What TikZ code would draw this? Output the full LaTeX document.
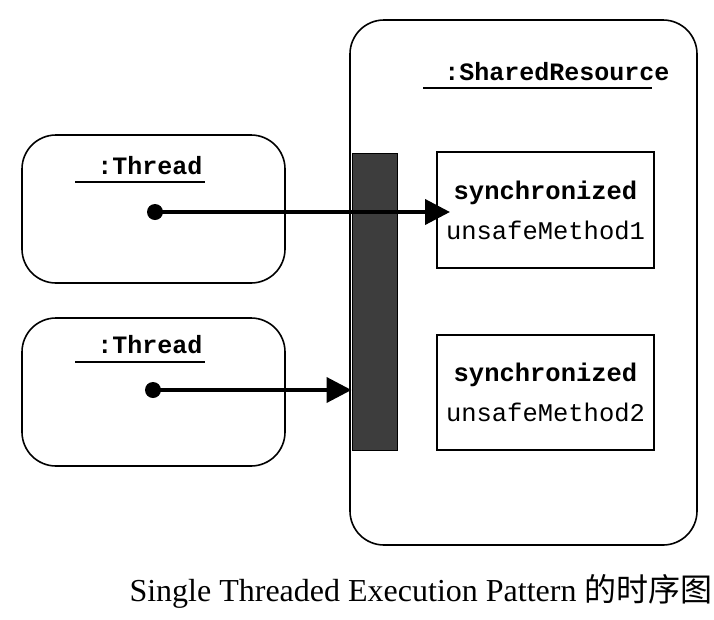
\documentclass[tikz,border=0pt]{standalone}
\usepackage{fontspec}
\setmainfont{Liberation Serif}
\setmonofont{Liberation Mono}
\newfontfamily\cjk{Noto Sans CJK SC}
\usetikzlibrary{arrows.meta}
\begin{document}
\begin{tikzpicture}[x=1pt,y=-1pt,
  objbox/.style={draw=black, line width=1.6pt, rounded corners=34pt, inner sep=0pt},
  methodbox/.style={draw=black, line width=1.4pt, inner sep=0pt, minimum width=217pt, align=center,
     font=\fontsize{25.5}{40}\selectfont\ttfamily},
  lockbar/.style={draw=black, line width=1pt, fill=black!76, inner sep=0pt, minimum width=45pt, minimum height=297pt},
  objtitle/.style={font=\fontsize{25}{28}\selectfont\ttfamily\bfseries, inner sep=0pt, anchor=base},
  uline/.style={line width=1.2pt},
  calldot/.style={circle, fill=black, inner sep=0pt, minimum size=16pt},
  callarrow/.style={line width=4pt, -{Triangle[length=25pt,width=25pt]}}
]
\useasboundingbox (0,0) rectangle (714,619);
% shared resource object
\node[objbox, minimum width=347pt, minimum height=525pt] (shared) at (523.5,282.5) {};
\node[objtitle] (stitle) at (557,80) {:SharedResource};
\draw[uline] (423,88) coordinate (su1) -- (652,88) coordinate (su2);
% method boxes
\node[methodbox, minimum height=116pt] (m1) at (545.5,210) {\textbf{synchronized}\\unsafeMethod1};
\node[methodbox, minimum height=115pt] (m2) at (545.5,392.5) {\textbf{synchronized}\\unsafeMethod2};
% threads
\node[objbox, minimum width=263pt, minimum height=148pt] (t1) at (153.5,209) {};
\node[objbox, minimum width=263pt, minimum height=148pt] (t2) at (153.5,392) {};
\node[objtitle] (tt1) at (150,174) {:Thread};
\node[objtitle] (tt2) at (150,353) {:Thread};
\draw[uline] (75,182) coordinate (u1a) -- (205,182) coordinate (u1b);
\draw[uline] (75,362) coordinate (u2a) -- (205,362) coordinate (u2b);
% lock bar
\node[lockbar] (bar) at (374.5,301.5) {};
% calls
\node[calldot] (d1) at (155,212) {};
\node[calldot] (d2) at (153,390) {};
\coordinate (e1) at (450,212);
\draw[callarrow] (d1.center) -- (e1);
\draw[callarrow] (d2.center) -- (bar.west |- d2);
% caption
\node[anchor=base, inner sep=0pt, font=\fontsize{32}{36}\selectfont] (cap) at (421,601)
  {Single Threaded Execution Pattern {\cjk 的时序图}};
\end{tikzpicture}
\end{document}
